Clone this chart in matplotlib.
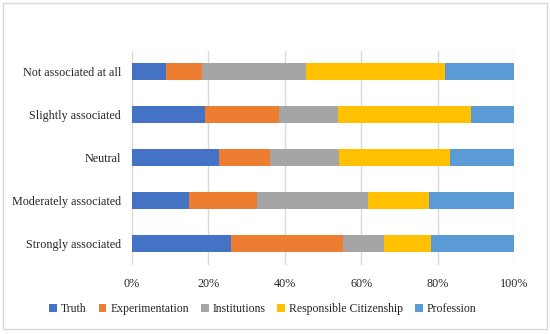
import matplotlib
matplotlib.use("Agg")
import matplotlib.pyplot as plt
from matplotlib.patches import Rectangle
import numpy as np

categories = ["Not associated at all", "Slightly associated", "Neutral",
              "Moderately associated", "Strongly associated"]
series_names = ["Truth", "Experimentation", "Institutions",
                "Responsible Citizenship", "Profession"]
truth = [9.0, 19.2, 22.9, 15.0, 25.8]
experimentation = [9.2, 19.2, 13.3, 17.6, 29.5]
institutions = [27.3, 15.5, 18.1, 29.1, 10.6]
responsible = [36.4, 34.8, 29.0, 16.0, 12.3]
profession = [18.1, 11.3, 16.7, 22.3, 21.8]
tick_labels = ["0%", "20%", "40%", "60%", "80%", "100%"]
colors = ["#4472C4", "#ED7D31", "#A5A5A5", "#FFC000", "#5B9BD5"]

plt.rcParams['font.family'] = ['Liberation Serif', 'DejaVu Serif']
FS = 8.7

W, H = 550, 334
fig = plt.figure(figsize=(W / 100, H / 100), dpi=100)
ax = fig.add_axes([132 / W, 1 - 264.5 / H, (514 - 132) / W, (264.5 - 50.5) / H])

data = [truth, experimentation, institutions, responsible, profession]
y = np.arange(len(categories))
left = np.zeros(len(categories))
for name, vals, c in zip(series_names, data, colors):
    v = np.array(vals)
    ax.barh(y, v, left=left, height=0.4, color=c, label=name, zorder=3)
    left += v

ax.set_ylim(len(categories) - 0.5, -0.5)
ax.set_xlim(0, 100)
ax.set_yticks(y)
ax.set_yticklabels(categories, fontsize=FS, color='#262626')
ax.set_xticks(np.arange(0, 101, 20))
ax.set_xticklabels(tick_labels, fontsize=FS, color='#262626')
ax.tick_params(axis='both', length=0)
ax.tick_params(axis='y', pad=8)
ax.tick_params(axis='x', pad=10)
for s in ax.spines.values():
    s.set_visible(False)
ax.grid(axis='x', color='#D9D9D9', linewidth=1, zorder=0)

leg = fig.legend(loc='center', bbox_to_anchor=(263 / W, 1 - 309 / H), ncol=5,
                 frameon=False, fontsize=8.5, handlelength=0.65, handleheight=0.65,
                 handletextpad=0.35, columnspacing=1.0, labelcolor='#262626')

fig.patches.append(Rectangle((3 / W, 1 - 329 / H), 544 / W, 326 / H,
                             transform=fig.transFigure, fill=False,
                             edgecolor='#D9D9D9', linewidth=1))

fig.savefig("out.png", dpi=100)
